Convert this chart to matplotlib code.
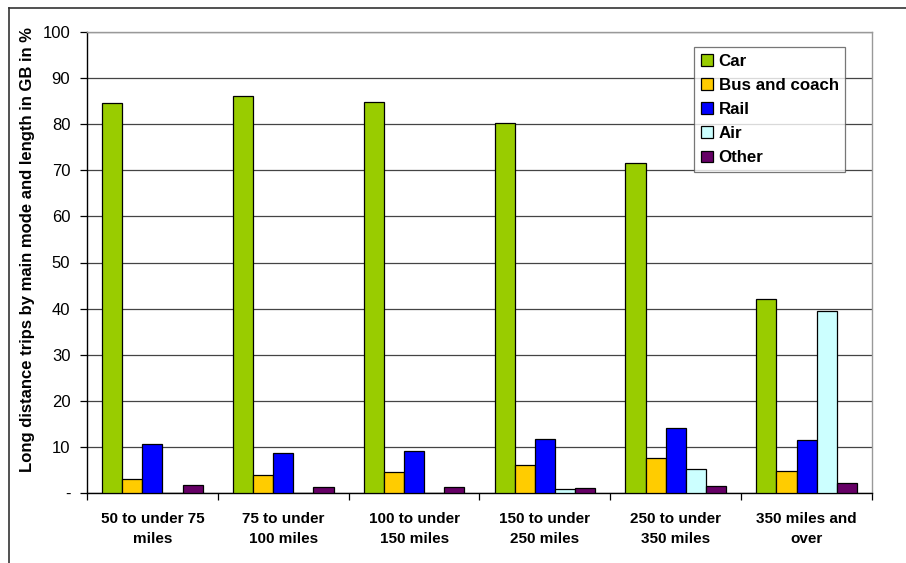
import matplotlib
matplotlib.use("Agg")
import matplotlib.pyplot as plt
from matplotlib.lines import Line2D
import numpy as np

plt.rcParams['font.family'] = ['Liberation Sans', 'DejaVu Sans']

categories = ["50 to under 75\nmiles", "75 to under\n100 miles", "100 to under\n150 miles",
              "150 to under\n250 miles", "250 to under\n350 miles", "350 miles and\nover"]
modes = ["Car", "Bus and coach", "Rail", "Air", "Other"]
car = [84.6, 86.1, 84.8, 80.2, 71.6, 42.0]
bus = [3.0, 3.9, 4.6, 6.1, 7.6, 4.8]
rail = [10.6, 8.6, 9.2, 11.8, 14.2, 11.6]
air = [0.1, 0.0, 0.0, 0.8, 5.1, 39.4]
other = [1.7, 1.4, 1.4, 1.1, 1.5, 2.1]
series = [car, bus, rail, air, other]
colors = ["#99CC00", "#FFCC00", "#0000FF", "#CCFFFF", "#660066"]
yticks = [0, 10, 20, 30, 40, 50, 60, 70, 80, 90, 100]
ytick_labels = ["-", "10", "20", "30", "40", "50", "60", "70", "80", "90", "100"]

W, H = 906, 563
fig = plt.figure(figsize=(W / 100, H / 100), dpi=100)
ax = fig.add_axes([87 / W, 1 - 493 / H, (872 - 87) / W, (493 - 32) / H])

# Excel-style clustered bars: gap width 150% of a bar
n = len(modes)
bw = 1 / (n + 1.5)
x0 = np.arange(len(categories))
for k, (name, vals, col) in enumerate(zip(modes, series, colors)):
    ax.bar(x0 + 0.75 * bw + k * bw, vals, width=bw, align="edge", color=col,
           edgecolor="black", linewidth=0.9, label=name, zorder=3)

ax.set_xlim(0, len(categories))
ax.set_ylim(0, 100)
ax.set_yticks(yticks)
ax.set_yticklabels(ytick_labels, fontsize=12)
ax.yaxis.grid(True, color="#444444", linewidth=0.9, zorder=0)
ax.set_xticks(np.arange(len(categories) + 1))
ax.set_xticklabels([])
ax.set_xticks(x0 + 0.5, minor=True)
ax.set_xticklabels(categories, minor=True, fontsize=11, fontweight="bold", linespacing=1.5)
ax.tick_params(axis="x", which="minor", length=0, pad=14)
ax.tick_params(axis="x", which="major", length=5, width=0.9, direction="out")
ax.tick_params(axis="y", length=5, width=0.9, direction="out", pad=7)

for side in ["top", "right"]:
    ax.spines[side].set_color("#999999")
    ax.spines[side].set_linewidth(1.0)
for side in ["left", "bottom"]:
    ax.spines[side].set_color("black")
    ax.spines[side].set_linewidth(1.0)

ax.set_ylabel("Long distance trips by main mode and length in GB in %",
              fontsize=12, fontweight="bold")
ax.yaxis.set_label_coords(-0.0665, 0.529)

leg = ax.legend(loc="upper left", bbox_to_anchor=((694 - 87) / (872 - 87), 1 - (47 - 32) / (493 - 32)),
                prop={"weight": "bold", "size": 12.2}, frameon=True, fancybox=False,
                handlelength=0.7, handleheight=0.7, handletextpad=0.35,
                labelspacing=0.54, borderpad=0.4, borderaxespad=0)
leg.get_frame().set_edgecolor("#555555")
leg.get_frame().set_linewidth(0.9)

# outer chart frame (top and left edges)
fig.add_artist(Line2D([9 / W, 1], [1 - 7.5 / H, 1 - 7.5 / H], color="#333333", linewidth=1.2))
fig.add_artist(Line2D([9 / W, 9 / W], [0, 1 - 7.5 / H], color="#333333", linewidth=1.2))

fig.savefig("out.png", dpi=100)
